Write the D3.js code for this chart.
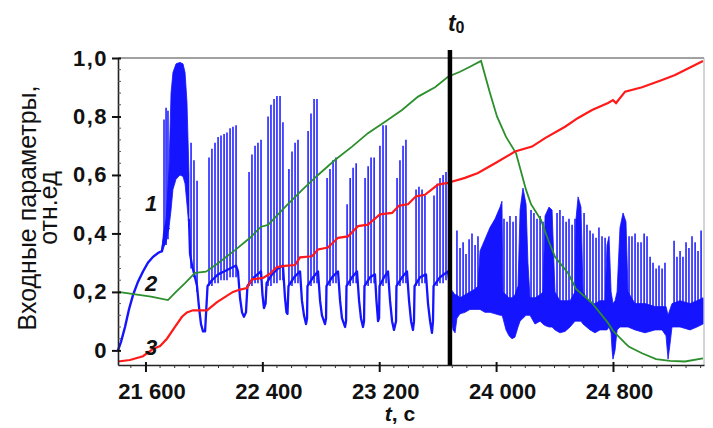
<!DOCTYPE html>
<html>
<head>
<meta charset="utf-8">
<script src="https://cdn.jsdelivr.net/npm/d3@7"></script>
<style>
body { margin: 0; background: #fff; }
text { font-family: Arial, "Liberation Sans", sans-serif; }
</style>
</head>
<body>
<svg id="chart"></svg>
<script>
// axis ticks and labels
var xTicks = [21600, 22400, 23200, 24000, 24800],
    xTickLabels = ['21 600', '22 400', '23 200', '24 000', '24 800'],
    yTicks = [0, 0.2, 0.4, 0.6, 0.8, 1.0],
    yTickLabels = ['0', '0,2', '0,4', '0,6', '0,8', '1,0'],
    t0 = 23684; // moment marked by the black line

// curve 3 (red) [t, value]
var redSeries = [[21412,-0.038],[21494,-0.033],[21583,-0.02],[21652,0.005],[21700,0.015],[21747,0.04],[21802,0.08],[21850,0.115],[21884,0.13],[21925,0.137],[22021,0.137],[22090,0.165],[22199,0.2],[22247,0.208],[22295,0.213],[22329,0.243],[22405,0.248],[22452,0.262],[22500,0.285],[22555,0.289],[22624,0.292],[22658,0.318],[22740,0.322],[22781,0.345],[22849,0.352],[22918,0.385],[22987,0.39],[23055,0.425],[23123,0.43],[23205,0.465],[23288,0.47],[23335,0.495],[23397,0.5],[23452,0.527],[23513,0.532],[23602,0.567],[23671,0.573],[23684,0.575],[23787,0.59],[23876,0.607],[23993,0.64],[24129,0.68],[24246,0.697],[24335,0.726],[24472,0.765],[24561,0.795],[24657,0.822],[24766,0.846],[24800,0.856],[24821,0.846],[24883,0.885],[24999,0.9],[25136,0.925],[25225,0.942],[25293,0.959],[25416,0.99]];

// curve 2 (green) [t, value]
var greenSeries = [[21412,0.2],[21638,0.184],[21754,0.172],[21809,0.2],[21871,0.23],[21939,0.265],[22014,0.269],[22097,0.298],[22213,0.343],[22316,0.385],[22391,0.423],[22439,0.429],[22555,0.49],[22671,0.548],[22781,0.6],[22897,0.651],[23014,0.697],[23123,0.743],[23240,0.782],[23356,0.822],[23466,0.868],[23582,0.9],[23671,0.936],[23753,0.953],[23821,0.97],[23897,0.99],[23958,0.88],[24006,0.8],[24068,0.73],[24136,0.675],[24205,0.549],[24239,0.5],[24307,0.446],[24355,0.38],[24403,0.32],[24451,0.29],[24492,0.265],[24547,0.21],[24657,0.162],[24766,0.094],[24800,0.067],[24883,0.025],[24910,0.012],[24999,-0.01],[25095,-0.03],[25190,-0.036],[25293,-0.038],[25416,-0.027]];

// curve 1 (blue): initial rise [t, value]
var blueStart = [[21412,0.0],[21433,0.03],[21460,0.08],[21487,0.14],[21515,0.19],[21549,0.235],[21583,0.27],[21617,0.3],[21652,0.32],[21686,0.333],[21713,0.34],[21723,0.37],[21734,0.4],[21761,0.42]];

// curve 1: slow component between the bursts [t, value]
var blueBase = [[21898,0.45],[21905,0.33],[21919,0.29],[21939,0.25],[21953,0.22],[21966,0.15],[21980,0.09],[21994,0.065],[22008,0.065],[22014,0.12],[22025,0.22],
  [22055,0.24],[22097,0.26],[22138,0.27],[22179,0.28],[22220,0.29],[22233,0.27],[22247,0.18],[22261,0.13],[22274,0.115],[22288,0.13],[22298,0.22],
  [22343,0.25],[22391,0.27],[22401,0.19],[22411,0.145],[22422,0.16],[22429,0.23],
  [22466,0.26],[22507,0.28],[22541,0.29],[22555,0.18],[22565,0.13],[22572,0.125],[22579,0.22],
  [22617,0.25],[22658,0.27],[22671,0.17],[22685,0.12],[22699,0.09],[22706,0.11],[22709,0.22],
  [22747,0.25],[22781,0.27],[22795,0.17],[22808,0.12],[22829,0.09],[22836,0.11],[22839,0.22],
  [22877,0.25],[22918,0.27],[22932,0.17],[22945,0.11],[22966,0.08],[22973,0.1],[22976,0.22],
  [23014,0.25],[23048,0.27],[23062,0.17],[23075,0.11],[23089,0.08],[23096,0.1],[23099,0.22],
  [23137,0.25],[23171,0.26],[23181,0.17],[23192,0.1],[23199,0.11],[23202,0.22],
  [23233,0.25],[23260,0.27],[23274,0.17],[23288,0.1],[23301,0.07],[23315,0.1],[23318,0.22],
  [23356,0.25],[23390,0.27],[23404,0.17],[23418,0.1],[23431,0.07],[23438,0.1],[23442,0.22],
  [23479,0.25],[23520,0.26],[23534,0.16],[23548,0.1],[23561,0.06],[23568,0.1],[23572,0.22],
  [23616,0.25],[23671,0.27],[23691,0.2]];

// curve 1: regions of dense oscillation [t, low, high]
var blueDenseEarly = [[21713,0.335,0.345],[21723,0.35,0.4],[21741,0.37,0.45],[21761,0.42,0.62],[21775,0.48,0.88],[21788,0.55,0.95],[21809,0.585,0.98],[21836,0.6,0.985],[21857,0.595,0.98],[21871,0.57,0.95],[21884,0.5,0.85],[21898,0.42,0.6]];

var blueDenseLate = [[23691,0.12,0.21],[23705,0.07,0.2],[23719,0.06,0.19],[23732,0.11,0.19],[23753,0.125,0.18],[23787,0.13,0.19],[23821,0.14,0.2],[23856,0.14,0.21],[23876,0.14,0.22],[23890,0.14,0.34],[23924,0.13,0.38],[23958,0.13,0.42],[23993,0.125,0.45],[24027,0.12,0.49],[24040,0.12,0.51],[24047,0.11,0.2],[24068,0.07,0.19],[24088,0.05,0.18],[24109,0.04,0.18],[24129,0.045,0.19],[24150,0.08,0.22],[24164,0.1,0.48],[24184,0.11,0.555],[24205,0.12,0.5],[24218,0.12,0.3],[24232,0.12,0.18],[24266,0.09,0.18],[24301,0.1,0.19],[24321,0.09,0.2],[24335,0.085,0.46],[24362,0.08,0.49],[24383,0.08,0.48],[24403,0.07,0.2],[24437,0.06,0.17],[24472,0.065,0.17],[24506,0.08,0.17],[24540,0.1,0.2],[24547,0.1,0.45],[24561,0.1,0.525],[24581,0.1,0.49],[24595,0.09,0.2],[24643,0.07,0.16],[24677,0.06,0.16],[24711,0.07,0.17],[24746,0.07,0.17],[24759,0.07,0.36],[24773,0.08,0.39],[24787,0.06,0.2],[24794,0.0,0.18],[24800,-0.03,0.16],[24814,0.0,0.17],[24828,0.07,0.2],[24848,0.08,0.42],[24869,0.08,0.47],[24889,0.08,0.44],[24903,0.08,0.2],[24951,0.07,0.16],[25019,0.06,0.16],[25088,0.07,0.15],[25136,0.07,0.15],[25163,0.05,0.15],[25177,-0.03,0.12],[25190,0.02,0.14],[25204,0.08,0.16],[25259,0.08,0.17],[25327,0.07,0.16],[25375,0.08,0.17],[25416,0.09,0.18]];

// curve 1: individual spikes [t, low, high]
var blueSpikes = [[21727,0.36,0.79],[21741,0.36,0.83],[21754,0.38,0.82],
  [21912,0.28,0.71],[21932,0.25,0.65],[21953,0.2,0.58],
  [22035,0.22,0.66],[22055,0.22,0.69],[22076,0.23,0.71],[22097,0.23,0.73],[22117,0.24,0.735],[22138,0.24,0.74],[22158,0.24,0.745],[22179,0.25,0.76],[22199,0.25,0.765],[22220,0.25,0.77],
  [22309,0.22,0.61],[22329,0.22,0.67],[22350,0.23,0.7],[22370,0.23,0.71],[22391,0.24,0.72],
  [22439,0.22,0.8],[22459,0.22,0.84],[22480,0.23,0.86],[22500,0.23,0.87],[22521,0.24,0.87],[22541,0.24,0.78],
  [22582,0.22,0.62],[22603,0.22,0.68],[22624,0.23,0.71],[22644,0.23,0.72],
  [22713,0.22,0.75],[22733,0.22,0.81],[22754,0.23,0.86],[22774,0.23,0.86],
  [22843,0.22,0.59],[22863,0.22,0.62],[22884,0.23,0.65],[22904,0.23,0.66],
  [22980,0.22,0.5],[23001,0.22,0.59],[23021,0.23,0.625],[23042,0.23,0.64],
  [23103,0.22,0.59],[23124,0.22,0.63],[23144,0.23,0.66],[23165,0.23,0.66],
  [23205,0.22,0.7],[23226,0.22,0.77],[23247,0.23,0.77],
  [23322,0.22,0.59],[23342,0.22,0.65],[23363,0.23,0.7],[23383,0.23,0.72],
  [23452,0.22,0.55],[23472,0.22,0.56],[23493,0.23,0.55],[23513,0.23,0.53],
  [23575,0.22,0.53],[23596,0.22,0.57],[23616,0.23,0.59],[23637,0.23,0.6],[23657,0.24,0.61],
  [23732,0.17,0.41],[23753,0.17,0.35],[23774,0.17,0.37],[23794,0.17,0.33],[23815,0.17,0.38],[23835,0.17,0.4],[23856,0.17,0.36],[23876,0.17,0.39],
  [24054,0.17,0.45],[24075,0.17,0.44],[24095,0.17,0.46],[24116,0.17,0.44],[24136,0.17,0.46],
  [24239,0.17,0.48],[24259,0.17,0.47],[24280,0.17,0.45],[24301,0.17,0.46],[24321,0.17,0.44],
  [24417,0.16,0.47],[24437,0.16,0.48],[24458,0.16,0.46],[24479,0.16,0.44],[24499,0.16,0.45],[24520,0.16,0.43],[24540,0.16,0.45],
  [24602,0.15,0.47],[24622,0.15,0.43],[24643,0.15,0.41],[24663,0.15,0.4],[24684,0.15,0.385],[24704,0.15,0.42],[24725,0.15,0.39],[24746,0.15,0.385],
  [24910,0.15,0.39],[24930,0.15,0.39],[24951,0.15,0.4],[24971,0.15,0.37],[24992,0.15,0.37],[25013,0.15,0.4],[25033,0.15,0.39],[25054,0.15,0.32],[25074,0.15,0.3],[25095,0.15,0.28],[25115,0.15,0.29],[25136,0.15,0.28],[25156,0.15,0.3],
  [25218,0.15,0.375],[25238,0.15,0.32],[25259,0.15,0.34],[25279,0.15,0.32],[25300,0.15,0.37],[25320,0.15,0.35],[25341,0.15,0.39],[25362,0.15,0.37],[25382,0.15,0.34],[25403,0.15,0.41]];

var width = 713, height = 428,
    margin = {top: 58, right: 9, bottom: 63, left: 118},
    blue = '#1414ff', green = '#2b8f2b', red = '#ff1a1a';

var svg = d3.select('#chart').attr('width', width).attr('height', height);

var x = d3.scaleLinear().domain([21412, 25423]).range([margin.left, width - margin.right]);
var y = d3.scaleLinear().domain([-0.05, 1.0]).range([height - margin.bottom, margin.top]);

var line = d3.line().x(d => x(d[0])).y(d => y(d[1]));
var area = d3.area().x(d => x(d[0])).y0(d => y(d[1])).y1(d => y(d[2]));

// frame (top and right)
svg.append('line').attr('x1', x.range()[0]).attr('x2', x.range()[1])
  .attr('y1', y.range()[1]).attr('y2', y.range()[1]).attr('stroke', '#444').attr('stroke-width', 1);
svg.append('line').attr('x1', x.range()[1]).attr('x2', x.range()[1])
  .attr('y1', y.range()[1]).attr('y2', y.range()[0]).attr('stroke', '#aaa').attr('stroke-width', 1);

// curve 1
var plot = svg.append('g');
[blueDenseEarly, blueDenseLate].forEach(function(region) {
  plot.append('path').datum(region).attr('d', area)
    .attr('fill', blue).attr('stroke', blue).attr('stroke-width', 0.8);
});
plot.append('path').datum(blueStart).attr('d', line)
  .attr('fill', 'none').attr('stroke', blue).attr('stroke-width', 2.4);
plot.append('path').datum(blueBase).attr('d', line)
  .attr('fill', 'none').attr('stroke', blue).attr('stroke-width', 2.3)
  .attr('stroke-linejoin', 'round');
plot.selectAll('.spike').data(blueSpikes).enter().append('line').attr('class', 'spike')
  .attr('x1', d => x(d[0])).attr('x2', d => x(d[0]))
  .attr('y1', d => y(d[1])).attr('y2', d => y(d[2]))
  .attr('stroke', blue).attr('stroke-width', 1.5);

// curves 2 and 3
plot.append('path').datum(greenSeries).attr('d', line)
  .attr('fill', 'none').attr('stroke', green).attr('stroke-width', 1.8);
plot.append('path').datum(redSeries).attr('d', line)
  .attr('fill', 'none').attr('stroke', red).attr('stroke-width', 2.2);

// axes
var xAxis = svg.append('g').attr('transform', `translate(0,${y.range()[0]})`)
  .call(d3.axisBottom(x).tickValues(xTicks).tickFormat((d, i) => xTickLabels[i])
    .tickSize(7).tickPadding(11).tickSizeOuter(0));
xAxis.selectAll('.tick line').attr('y1', -3).attr('stroke-width', 2);
xAxis.selectAll('.tick text').attr('dx', 6);

var xMinor = d3.range(21500, 25401, 100).filter(d => xTicks.indexOf(d) < 0);
svg.append('g').selectAll('line').data(xMinor).enter().append('line')
  .attr('x1', d => x(d)).attr('x2', d => x(d))
  .attr('y1', y.range()[0]).attr('y2', y.range()[0] + 3)
  .attr('stroke', '#333').attr('stroke-width', 1);

var yAxis = svg.append('g').attr('transform', `translate(${x.range()[0]},0)`)
  .call(d3.axisLeft(y).tickValues(yTicks).tickFormat((d, i) => yTickLabels[i])
    .tickSize(6).tickPadding(4).tickSizeOuter(0));
yAxis.selectAll('.tick line').attr('x1', 3).attr('stroke-width', 2);
yAxis.selectAll('.tick text').attr('letter-spacing', 1.5);

var yMinor = d3.range(0.04, 1.0, 0.04).filter(d => Math.abs(d * 5 - Math.round(d * 5)) > 0.01);
svg.append('g').selectAll('line').data(yMinor).enter().append('line')
  .attr('x1', x.range()[0]).attr('x2', x.range()[0] + 3)
  .attr('y1', d => y(d)).attr('y2', d => y(d))
  .attr('stroke', '#555').attr('stroke-width', 1);

[xAxis, yAxis].forEach(function(ax) {
  ax.attr('font-family', null).attr('font-size', null);
  ax.select('.domain').attr('stroke', '#222').attr('stroke-width', 1.6);
  ax.selectAll('.tick line').attr('stroke', '#111');
  ax.selectAll('.tick text').attr('fill', '#111').attr('font-size', 22).attr('font-weight', 'bold');
});

// t0 marker
svg.append('line').attr('x1', x(t0)).attr('x2', x(t0))
  .attr('y1', 50).attr('y2', y.range()[0])
  .attr('stroke', '#000').attr('stroke-width', 4.5);
var t0Label = svg.append('text').attr('x', x(t0) - 2).attr('y', 31)
  .attr('font-weight', 'bold').attr('fill', '#111');
t0Label.append('tspan').attr('font-style', 'italic').attr('font-size', 23).text('t');
t0Label.append('tspan').attr('font-size', 16).attr('dy', 2).text('0');

// curve numbers
[['1', 211], ['2', 291], ['3', 355]].forEach(function(d) {
  svg.append('text').attr('x', 151).attr('y', d[1]).attr('text-anchor', 'middle')
    .attr('font-size', 22).attr('font-weight', 'bold').attr('font-style', 'italic')
    .attr('fill', '#111').text(d[0]);
});

// axis titles
var xTitle = svg.append('text').attr('x', 400).attr('y', 421).attr('text-anchor', 'middle')
  .attr('font-size', 21).attr('font-weight', 'bold').attr('fill', '#111');
xTitle.append('tspan').attr('font-style', 'italic').text('t');
xTitle.append('tspan').text(', с');

svg.append('text').attr('transform', 'translate(36,208) rotate(-90)').attr('text-anchor', 'middle')
  .attr('font-size', 25).attr('fill', '#111').text('Входные параметры,');
svg.append('text').attr('transform', 'translate(57,208) rotate(-90)').attr('text-anchor', 'middle')
  .attr('font-size', 25).attr('fill', '#111').text('отн.ед');
</script>
</body>
</html>
